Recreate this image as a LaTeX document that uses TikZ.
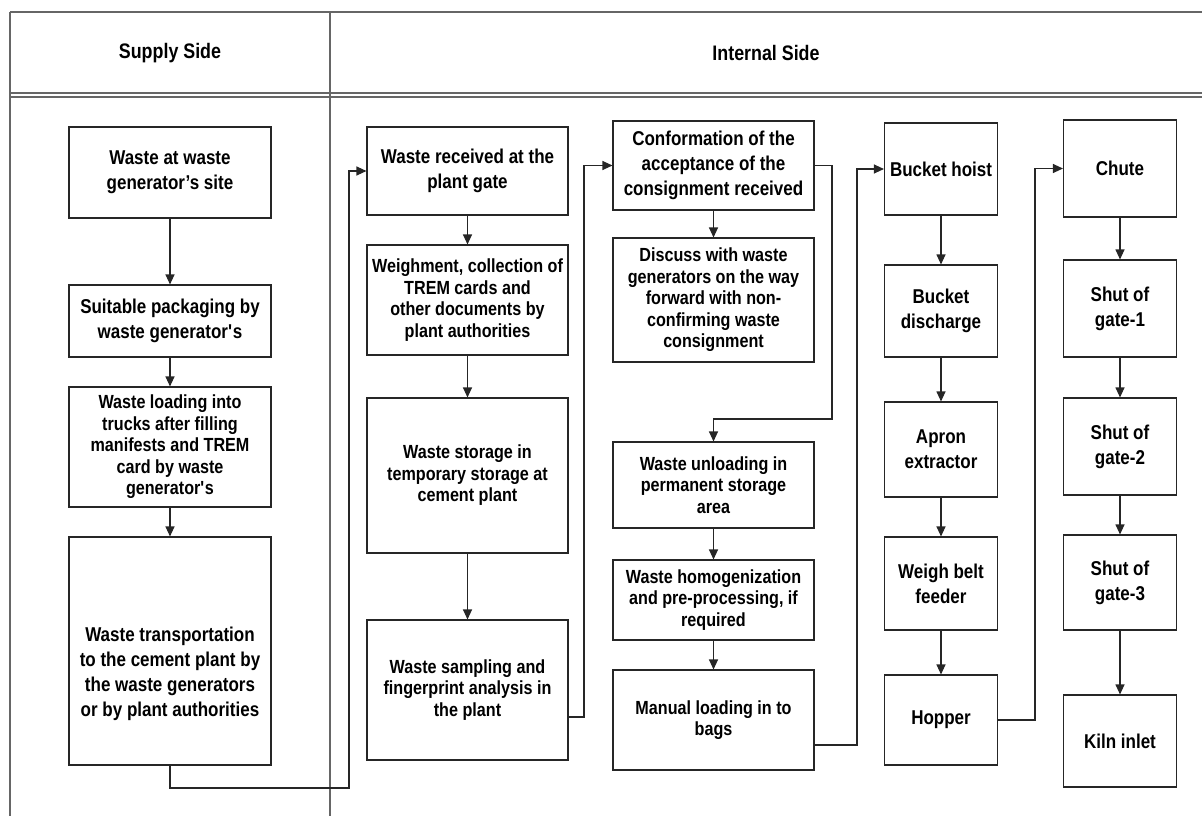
\documentclass[tikz,border=0pt]{standalone}
\usepackage{fontspec}
\setmainfont{Liberation Sans}[FakeStretch=0.85]
\usetikzlibrary{arrows.meta,positioning}

\begin{document}
\begin{tikzpicture}[
  x=1pt, y=-1pt,
  box/.style={draw=black!85, line width=1.1pt, align=center, inner sep=1pt, font=\bfseries\fontsize{20}{25}\selectfont},
  small/.style={font=\bfseries\fontsize{19}{21.5}\selectfont},
  colA/.style={box, minimum width=202pt},
  colB/.style={box, minimum width=201pt},
  colC/.style={box, minimum width=113pt},
  head/.style={font=\bfseries\fontsize{21}{25}\selectfont},
  rule/.style={draw=black!60, line width=1.1pt},
  flow/.style={draw=black!85, line width=1.1pt, -{Triangle[length=10pt, width=9pt]}}
]
\useasboundingbox (0,0) rectangle (1202,816);

% table frame
\draw[rule] (10,12) -- (1202,12);
\draw[rule] (10,93) -- (1202,93);
\draw[rule] (10,97) -- (1202,97);
\draw[rule] (10,12) -- (10,816);
\draw[rule] (330,12) -- (330,816);
\node[head] (supply) at (170,53) {Supply Side};
\node[head] (internal) at (766,53) {Internal Side};

% supply side
\node[colA, minimum height=91pt] (site) at (170,172.5) {Waste at waste\\generator’s site};
\node[colA, minimum height=72pt] (pack) at (170,321) {Suitable packaging by\\waste generator\textquotesingle s};
\node[colA, small, minimum height=120pt] (load) at (170,447) {Waste loading into\\trucks after filling\\manifests and TREM\\card by waste\\generator\textquotesingle s};
\node[colA, minimum height=228pt] (transp) at (170,651) {\rule{0pt}{60pt}Waste transportation\\to the cement plant by\\the waste generators\\or by plant authorities};

% internal side, receiving
\node[colB, minimum height=88pt] (gate) at (467.5,171) {Waste received at the\\plant gate};
\node[colB, small, minimum height=110pt] (weigh) at (467.5,300) {Weighment, collection of\\TREM cards and\\other documents by\\plant authorities};
\node[colB, small, minimum height=155pt] (tstore) at (467.5,475.5) {Waste storage in\\temporary storage at\\cement plant};
\node[colB, small, minimum height=140pt] (sample) at (467.5,690) {Waste sampling and\\fingerprint analysis in\\the plant};

% internal side, acceptance
\node[colB, minimum height=89pt] (accept) at (713.5,165.5) {Conformation of the\\acceptance of the\\consignment received};
\node[colB, small, minimum height=124pt] (discuss) at (713.5,300) {Discuss with waste\\generators on the way\\forward with non-\\confirming waste\\consignment};
\node[colB, small, minimum height=86pt] (unload) at (713.5,485) {Waste unloading in\\permanent storage\\area};
\node[colB, small, minimum height=80pt] (homog) at (713.5,600) {Waste homogenization\\and pre-processing, if\\required};
\node[colB, small, minimum height=100pt] (bags) at (713.5,720) {Manual loading in to\\bags};

% feeding line
\node[colC, minimum height=92pt] (hoist) at (941,169) {Bucket hoist};
\node[colC, minimum height=92pt] (bdis) at (941,311) {Bucket\\discharge};
\node[colC, minimum height=95pt] (apron) at (941,449.5) {Apron\\extractor};
\node[colC, minimum height=93pt] (wbf) at (941,583.5) {Weigh belt\\feeder};
\node[colC, minimum height=90pt] (hopper) at (941,720) {Hopper};

\node[colC, minimum height=97pt] (chute) at (1120,168.5) {Chute};
\node[colC, minimum height=97pt] (sg1) at (1120,308.5) {Shut of\\gate-1};
\node[colC, minimum height=97pt] (sg2) at (1120,446.5) {Shut of\\gate-2};
\node[colC, minimum height=95pt] (sg3) at (1120,582.5) {Shut of\\gate-3};
\node[colC, minimum height=92pt] (kiln) at (1120,741) {Kiln inlet};

% bends of the links between columns
\coordinate (j1) at (349,788);
\coordinate (j2) at (584,717);
\coordinate (j3) at (832,419);
\coordinate (j4) at (857,745);
\coordinate (j5) at (1035,0);

\draw[flow] (site) -- (pack);
\draw[flow] (pack) -- (load);
\draw[flow] (load) -- (transp);
\draw[flow] (transp.south) |- (j1) |- (gate.west);

\draw[flow] (gate) -- (weigh);
\draw[flow] (weigh) -- (tstore);
\draw[flow] (tstore) -- (sample);
\draw[flow] (sample.east |- j2) -- (j2) -- (j2 |- accept.west) -- (accept.west);

\draw[flow] (accept) -- (discuss);
\draw[flow] (accept.east) -| (j3) -| (unload.north);
\draw[flow] (unload) -- (homog);
\draw[flow] (homog) -- (bags);
\draw[flow] (bags.east |- j4) -- (j4) -- (j4 |- hoist.west) -- (hoist.west);

\draw[flow] (hoist) -- (bdis);
\draw[flow] (bdis) -- (apron);
\draw[flow] (apron) -- (wbf);
\draw[flow] (wbf) -- (hopper);
\draw[flow] (hopper.east) -- (hopper.east -| j5) -- (j5 |- chute.west) -- (chute.west);

\draw[flow] (chute) -- (sg1);
\draw[flow] (sg1) -- (sg2);
\draw[flow] (sg2) -- (sg3);
\draw[flow] (sg3) -- (kiln);
\end{tikzpicture}
\end{document}
